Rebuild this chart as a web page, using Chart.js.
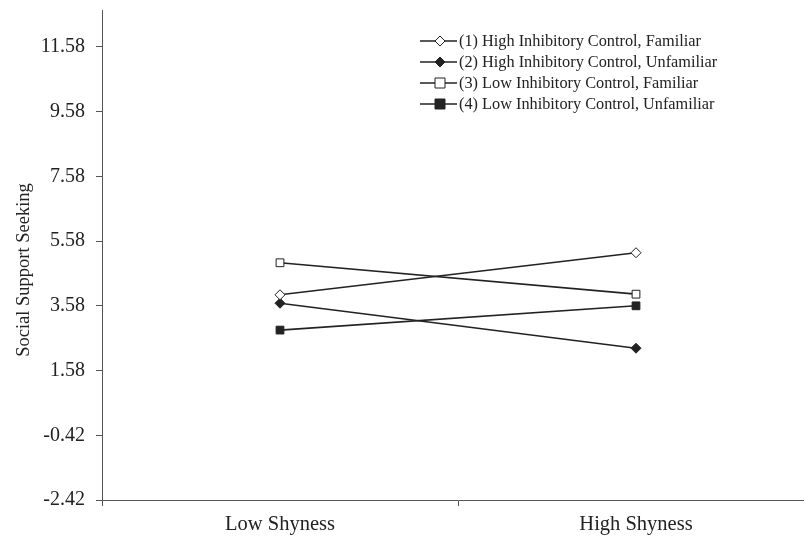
<!DOCTYPE html>
<html>
<head>
<meta charset="utf-8">
<script src="https://cdn.jsdelivr.net/npm/chart.js@4"></script>
<style>
  html, body { margin: 0; padding: 0; background: #fff; overflow: hidden; }
  #wrap { width: 804px; height: 538px; overflow: hidden; }
</style>
</head>
<body>
<div id="wrap"><canvas id="shynessChart" width="816" height="538"></canvas></div>
<script>
const categories = ["Low Shyness", "High Shyness"];
const seriesNames = [
  "(1) High Inhibitory Control, Familiar",
  "(2) High Inhibitory Control, Unfamiliar",
  "(3) Low Inhibitory Control, Familiar",
  "(4) Low Inhibitory Control, Unfamiliar",
];
const highFamiliar = [3.92, 5.22];
const highUnfamiliar = [3.66, 2.27];
const lowFamiliar = [4.91, 3.94];
const lowUnfamiliar = [2.83, 3.58];
const yTicks = [-2.42, -0.42, 1.58, 3.58, 5.58, 7.58, 9.58, 11.58];
const yTitle = "Social Support Seeking";

const serif = "'Liberation Serif', 'Times New Roman', serif";
const ink = "#222";

function makeSet(label, data, style, filled) {
  return {
    label: label,
    data: data,
    borderColor: ink,
    borderWidth: 1.6,
    pointStyle: style,
    pointRadius: style === "rect" ? 5.5 : 5,
    pointBackgroundColor: filled ? ink : "#fff",
    pointBorderColor: ink,
    pointBorderWidth: 1,
    tension: 0,
  };
}

// legend drawn by hand: short line with the marker in the middle
// (y title drawn here too, it sits a bit below the plot's centre in the original)
const lineLegend = {
  id: "lineLegend",
  afterDraw(chart) {
    const ctx = chart.ctx;
    ctx.save();
    ctx.font = "16.3px " + serif;
    ctx.textBaseline = "middle";
    chart.data.datasets.forEach((ds, i) => {
      const y = 41 + i * 21;
      ctx.strokeStyle = ink;
      ctx.lineWidth = 1.6;
      ctx.beginPath();
      ctx.moveTo(420, y);
      ctx.lineTo(457, y);
      ctx.stroke();
      ctx.fillStyle = ds.pointBackgroundColor;
      ctx.lineWidth = 1;
      ctx.beginPath();
      if (ds.pointStyle === "rect") {
        ctx.rect(435, y - 5, 10, 10);
      } else {
        ctx.moveTo(440, y - 5);
        ctx.lineTo(445, y);
        ctx.lineTo(440, y + 5);
        ctx.lineTo(435, y);
        ctx.closePath();
      }
      ctx.fill();
      ctx.stroke();
      ctx.fillStyle = ink;
      ctx.fillText(ds.label, 459, y + 1);
    });

    ctx.translate(24, 270);
    ctx.rotate(-Math.PI / 2);
    ctx.font = "18.5px " + serif;
    ctx.textAlign = "center";
    ctx.fillStyle = ink;
    ctx.fillText(yTitle, 0, 0);
    ctx.restore();
  },
};

function renderChart() {
  const ctx = document.getElementById("shynessChart").getContext("2d");
  new Chart(ctx, {
    type: "line",
    data: {
      labels: categories,
      datasets: [
        makeSet(seriesNames[0], highFamiliar, "rectRot", false),
        makeSet(seriesNames[1], highUnfamiliar, "rectRot", true),
        makeSet(seriesNames[2], lowFamiliar, "rect", false),
        makeSet(seriesNames[3], lowUnfamiliar, "rect", true),
      ],
    },
    options: {
      responsive: false,
      animation: false,
      layout: { autoPadding: false, padding: { top: 10, right: 2, left: 0, bottom: 0 } },
      plugins: {
        legend: { display: false },
        tooltip: { enabled: false },
      },
      scales: {
        x: {
          offset: true,
          grid: {
            offset: true,
            drawOnChartArea: false,
            drawTicks: true,
            tickLength: 6,
            color: "#555",
          },
          border: { color: "#555", width: 1 },
          ticks: {
            color: ink,
            padding: 6,
            font: { family: serif, size: 20.5 },
          },
          afterFit(scale) {
            scale.height = 38;
            scale.paddingLeft = 0;
            scale.paddingRight = 0;
          },
        },
        y: {
          min: -2.42,
          max: 12.72,
          afterBuildTicks(scale) {
            scale.ticks = yTicks.map((v) => ({ value: v }));
          },
          grid: {
            drawOnChartArea: false,
            drawTicks: true,
            tickLength: 6,
            color: "#555",
          },
          border: { color: "#555", width: 1 },
          ticks: {
            color: ink,
            padding: 11,
            font: { family: serif, size: 20 },
            callback: (v) => v.toFixed(2),
          },
          afterFit(scale) {
            scale.width = 102;
            scale.paddingTop = 0;
            scale.paddingBottom = 0;
          },
        },
      },
    },
    plugins: [lineLegend],
  });
}

document.addEventListener("DOMContentLoaded", renderChart);
</script>
</body>
</html>
